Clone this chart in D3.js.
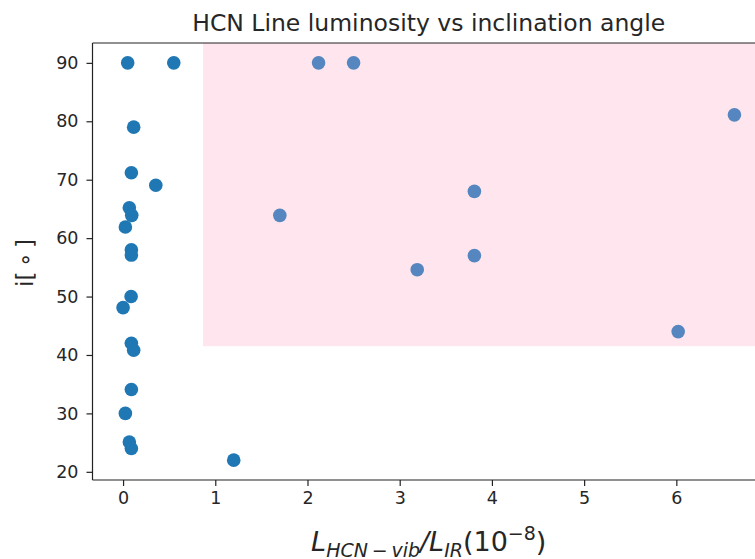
<!DOCTYPE html>
<html><head><meta charset="utf-8">
<script src="https://cdn.jsdelivr.net/npm/d3@7"></script>
<style>
html,body{margin:0;padding:0;background:#fff;overflow:hidden;}
svg{display:block;}
text{font-family:"DejaVu Sans",sans-serif;}
</style></head>
<body><svg id="c" width="755" height="559"></svg>
<script>
// Data
const darkX = [0.05, 0.55, 0.115, 0.09, 0.355, 0.068, 0.094, 0.025, 0.09, 0.09, 0.087, 0.00, 0.09, 0.115, 0.09, 0.025, 0.068, 0.09, 1.20];
const darkY = [90, 90, 79, 71.2, 69.05, 65.2, 63.9, 61.9, 58.0, 57.1, 50.0, 48.1, 42.0, 40.8, 34.1, 30.0, 25.1, 24.0, 22.0];
const lightX = [2.12, 2.50, 6.63, 3.81, 1.70, 3.81, 3.19, 6.02];
const lightY = [90, 90, 81.1, 68.0, 63.9, 57.0, 54.6, 44.0];
const spanX0 = 0.867, spanY0 = 41.5;
const xTicks = [0, 1, 2, 3, 4, 5, 6];
const yTicks = [20, 30, 40, 50, 60, 70, 80, 90];
const title = "HCN Line luminosity vs inclination angle";

const svg = d3.select("#c");
const L = 92.5, T = 43, R = 765, B = 480;

const allX = darkX.concat(lightX), allY = darkY.concat(lightY);
const xe = d3.extent(allX), ye = d3.extent(allY);
const xp = (xe[1]-xe[0])*0.05, yp = (ye[1]-ye[0])*0.05;
const x = d3.scaleLinear().domain([xe[0]-xp, xe[1]+xp]).range([L, R]);
const y = d3.scaleLinear().domain([ye[0]-yp, ye[1]+yp]).range([B, T]);

// pink span
svg.append("rect")
  .attr("x", x(spanX0)).attr("y", T)
  .attr("width", R - x(spanX0)).attr("height", y(spanY0) - T)
  .attr("fill", "#ffe6ee");

const g = svg.append("g");
g.selectAll("circle.d").data(darkX.map((v,i)=>[v,darkY[i]])).join("circle")
  .attr("class","d").attr("cx", d=>x(d[0])).attr("cy", d=>y(d[1])).attr("r", 6.8)
  .attr("fill", "#1f77b4");
g.selectAll("circle.l").data(lightX.map((v,i)=>[v,lightY[i]])).join("circle")
  .attr("class","l").attr("cx", d=>x(d[0])).attr("cy", d=>y(d[1])).attr("r", 6.8)
  .attr("fill", "#5586bf");

// axes
const xa = svg.append("g").attr("transform", `translate(0,${B})`)
  .call(d3.axisBottom(x).tickValues(xTicks).tickFormat(d3.format("d")).tickSize(6).tickPadding(6));
const ya = svg.append("g").attr("transform", `translate(${L},0)`)
  .call(d3.axisLeft(y).tickValues(yTicks).tickFormat(d3.format("d")).tickSize(6).tickPadding(8));
[xa, ya].forEach(a => {
  a.select(".domain").remove();
  a.selectAll("line").attr("stroke", "#222").attr("stroke-width", 1.2);
  a.selectAll("text").attr("font-size", 17.5).attr("fill", "#262626").attr("font-family", "DejaVu Sans");
});
// spines
const sp = [[L,T,L,B],[L,B,R,B],[L,T,R,T],[R,T,R,B]];
svg.selectAll("line.sp").data(sp).join("line").attr("class","sp")
  .attr("x1", d=>d[0]).attr("y1", d=>d[1]).attr("x2", d=>d[2]).attr("y2", d=>d[3])
  .attr("stroke", "#222").attr("stroke-width", 1.2);

// title
svg.append("text").attr("x", (L+R)/2).attr("y", 31).attr("text-anchor", "middle")
  .attr("font-size", 23.5).attr("fill", "#262626").text(title);

// x label (math-like)
const xl = svg.append("text").attr("x", (L+R)/2).attr("y", 551).attr("text-anchor", "middle")
  .attr("font-size", 27).attr("fill", "#262626");
xl.append("tspan").attr("font-style", "italic").text("L");
xl.append("tspan").attr("font-style", "italic").attr("font-size", 19).attr("dy", 6).text("HCN\u2009\u2212\u2009vib");
xl.append("tspan").attr("dy", -6).attr("font-style", "italic").text("/");
xl.append("tspan").attr("font-style", "italic").text("L");
xl.append("tspan").attr("font-style", "italic").attr("font-size", 19).attr("dy", 6).text("IR");
xl.append("tspan").attr("dy", -6).text("(10");
xl.append("tspan").attr("font-size", 19).attr("dy", -11).text("\u22128");
xl.append("tspan").attr("dy", 11).text(")");

// y label
const yl = svg.append("text").attr("transform", "translate(33,263) rotate(-90)")
  .attr("text-anchor", "middle").attr("font-size", 23).attr("fill", "#262626");
yl.append("tspan").text("i[\u2009\u2218\u2009]");
</script></body></html>
